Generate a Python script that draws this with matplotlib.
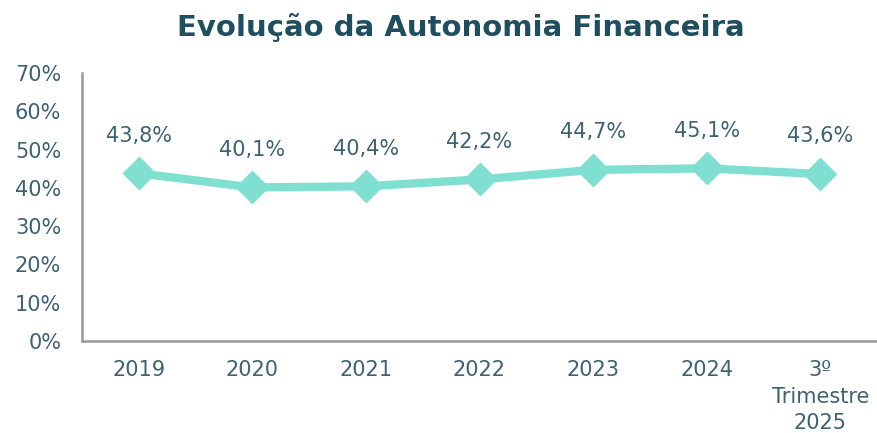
import matplotlib
matplotlib.use("Agg")
import matplotlib.pyplot as plt
from matplotlib.ticker import FuncFormatter

categories = ["2019", "2020", "2021", "2022", "2023", "2024", "3º\nTrimestre\n2025"]
values = [43.8, 40.1, 40.4, 42.2, 44.7, 45.1, 43.6]
labels = ["43,8%", "40,1%", "40,4%", "42,2%", "44,7%", "45,1%", "43,6%"]
yticks = [0, 10, 20, 30, 40, 50, 60, 70]

text_color = "#3D6272"
title_color = "#1F4E5F"
line_color = "#7FE0D2"

fig = plt.figure(figsize=(8.77, 4.33), dpi=100)
ax = fig.add_axes([82/877, 1-341/433, 1-82/877, (341-73)/433])

x = list(range(len(categories)))
ax.plot(x, values, color=line_color, linewidth=6, marker="D", markersize=16,
        solid_joinstyle="round", solid_capstyle="round", clip_on=False)
for xi, v, lab in zip(x, values, labels):
    ax.annotate(lab, (xi, v), xytext=(0, 20), textcoords="offset points",
                ha="center", va="bottom", fontsize=15, color=text_color)

ax.set_xlim(-0.5, len(categories) - 0.5)
ax.set_ylim(0, 70)
ax.set_yticks(yticks)
ax.yaxis.set_major_formatter(FuncFormatter(lambda v, p: f"{v:.0f}%"))
ax.set_xticks(x)
ax.set_xticklabels(categories, linespacing=1.38)
ax.tick_params(axis="both", length=0, labelsize=15, labelcolor=text_color)
ax.tick_params(axis="x", pad=14)
ax.tick_params(axis="y", pad=15)
for s in ["top", "right"]:
    ax.spines[s].set_visible(False)
for s in ["left", "bottom"]:
    ax.spines[s].set_color("#999999")
    ax.spines[s].set_linewidth(1.8)

fig.text(461/877, 1-27/433, "Evolução da Autonomia Financeira", ha="center", va="center",
         fontsize=21, fontweight="bold", color=title_color)

fig.savefig("out.png", dpi=100)
